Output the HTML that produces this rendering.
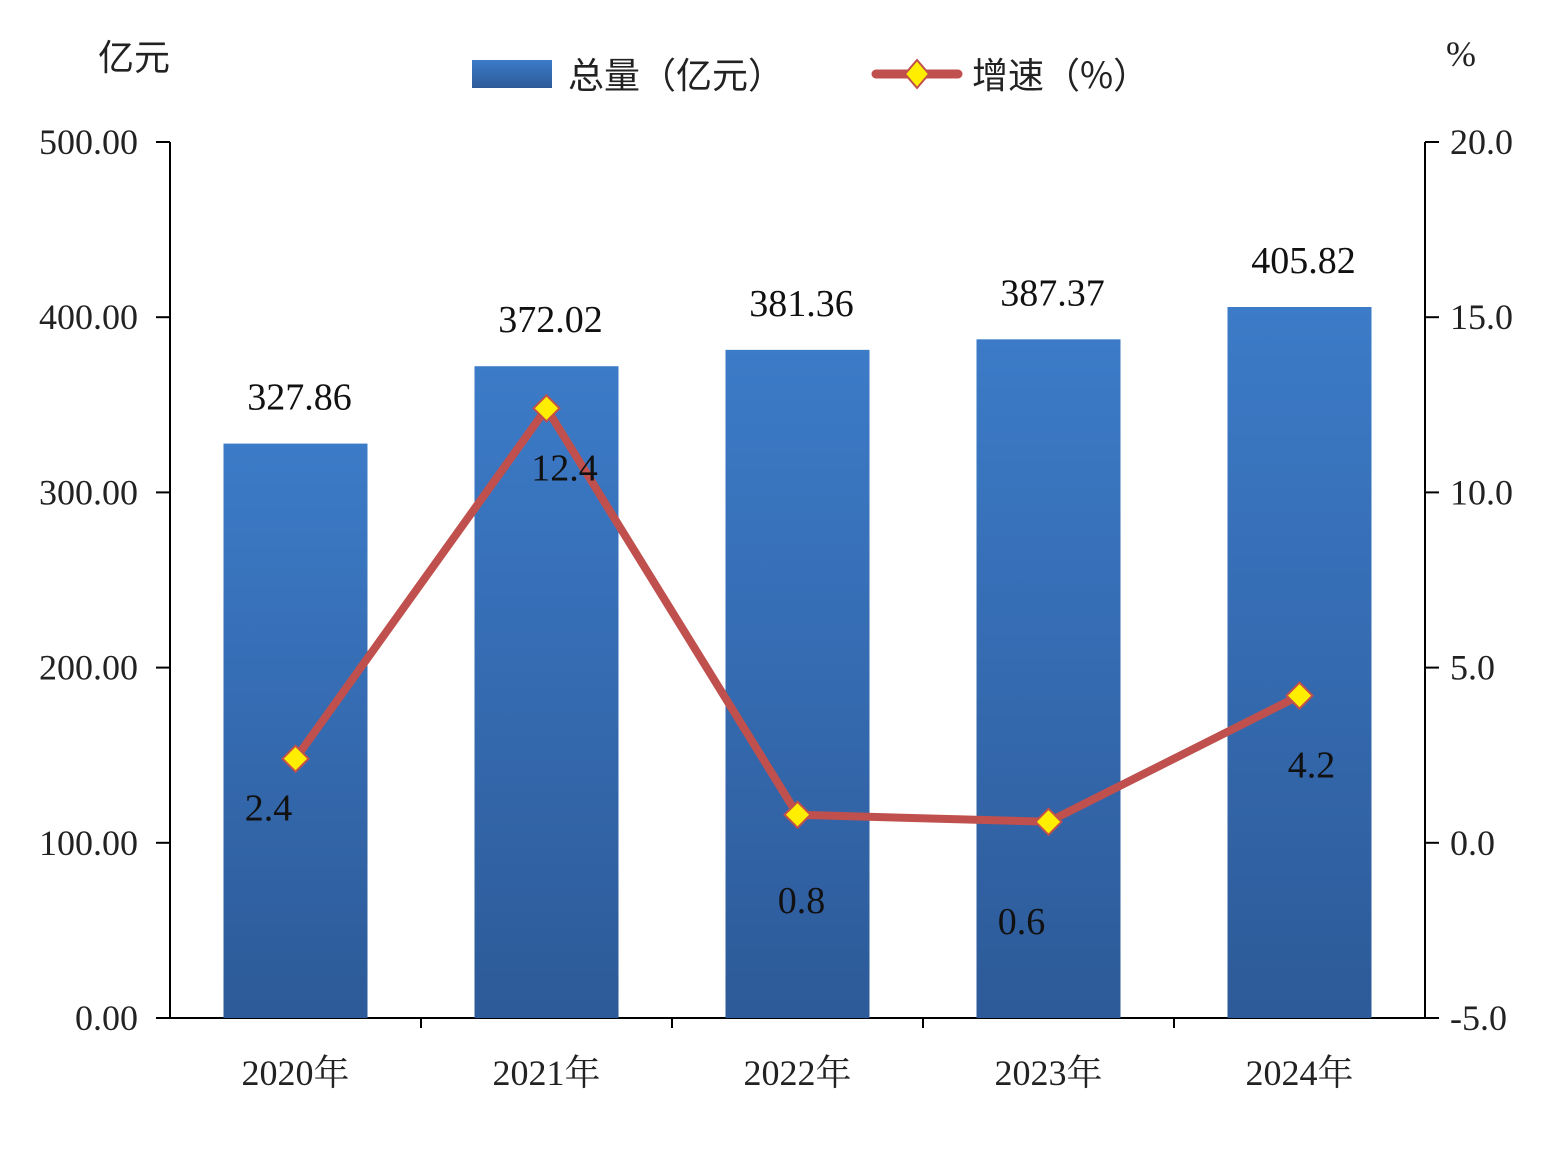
<!DOCTYPE html>
<html><head><meta charset="utf-8">
<style>
html,body{margin:0;padding:0;background:#fff;}
svg text{font-family:"Liberation Serif","Noto Serif CJK SC",serif;}
.cjk{font-family:"Noto Sans CJK SC","WenQuanYi Zen Hei",sans-serif;}
</style></head>
<body>
<svg id="chart" width="1548" height="1152" xmlns="http://www.w3.org/2000/svg">
<defs>
<linearGradient id="barg" x1="0" y1="0" x2="0" y2="1">
<stop offset="0" stop-color="#3c7bc8"/><stop offset="1" stop-color="#2d5a98"/>
</linearGradient>
</defs>
<g id="axes"></g>
<g id="bars"></g>
<g id="line"></g>
<g id="labels"></g>
<g>
<rect x="472" y="60" width="80" height="28" fill="url(#barg)"/>
<text class="cjk" x="568" y="88" font-size="36" fill="#222">总量（亿元）</text>
<line x1="876" y1="74" x2="958" y2="74" stroke="#c0504d" stroke-width="9" stroke-linecap="round"/>
<polygon points="917,60 929,74 917,88 905,74" fill="#ffee00" stroke="#c0504d" stroke-width="2"/>
<text class="cjk" x="972" y="88" font-size="36" fill="#222">增速（%）</text>
</g>
<text class="cjk" x="98" y="70" font-size="36" fill="#222">亿元</text>
<text x="1446" y="66" font-size="36" fill="#222">%</text>
</svg>
<script>
const categories=["2020年","2021年","2022年","2023年","2024年"];
const totals=[327.86,372.02,381.36,387.37,405.82];
const growth=[2.4,12.4,0.8,0.6,4.2];
const leftTicks=[0,100,200,300,400,500];
const rightTicks=[-5,0,5,10,15,20];

const NS="http://www.w3.org/2000/svg";
const X0=170,X1=1425,Y0=1018,Y1=142;
const yL=v=>Y0-(v-0)/(500-0)*(Y0-Y1);
const yR=v=>Y0-(v+5)/(25)*(Y0-Y1);
const band=(X1-X0)/categories.length;
const xC=i=>X0+band*(i+0.5);
function mk(tag,attrs,parent,txt){const e=document.createElementNS(NS,tag);for(const k in attrs)e.setAttribute(k,attrs[k]);if(txt!==undefined)e.textContent=txt;document.getElementById(parent).appendChild(e);return e;}

// axes
let e;
e=mk('line',{x1:X0,y1:Y1,x2:X0,y2:Y0,stroke:'#000','stroke-width':2},'axes');

e=mk('line',{x1:X1,y1:Y1,x2:X1,y2:Y0,stroke:'#000','stroke-width':2},'axes');

e=mk('line',{x1:X0,y1:Y0,x2:X1,y2:Y0,stroke:'#000','stroke-width':2},'axes');

leftTicks.forEach(v=>{
  mk('line',{x1:X0-14,y1:yL(v),x2:X0,y2:yL(v),stroke:'#000','stroke-width':2},'axes');
  e=mk('text',{x:138,y:yL(v)+12,'font-size':36,'text-anchor':'end',fill:'#222'},'axes',v.toFixed(2));
  
});
rightTicks.forEach(v=>{
  mk('line',{x1:X1,y1:yR(v),x2:X1+14,y2:yR(v),stroke:'#000','stroke-width':2},'axes');
  e=mk('text',{x:1450,y:yR(v)+12,'font-size':36,fill:'#222'},'axes',v.toFixed(1));
  
});
for(let i=1;i<categories.length;i++){
  mk('line',{x1:X0+band*i,y1:Y0,x2:X0+band*i,y2:Y0+10,stroke:'#000','stroke-width':2},'axes');
}
categories.forEach((c,i)=>{
  e=mk('text',{x:xC(i),y:1085,'font-size':36,'text-anchor':'middle',fill:'#222'},'axes',c);
  
});
// bars
const bw=144;
totals.forEach((v,i)=>{
  e=mk('rect',{x:xC(i)-bw/2,y:yL(v),width:bw,height:Y0-yL(v),fill:'url(#barg)'},'bars');
  
  e=mk('text',{x:xC(i)+4,y:yL(v)-34,'font-size':38,'text-anchor':'middle',fill:'#111'},'labels',v.toFixed(2));
  
});
// line
const pts=growth.map((v,i)=>xC(i)+','+yR(v)).join(' ');
e=mk('polyline',{points:pts,fill:'none',stroke:'#c0504d','stroke-width':8,'stroke-linejoin':'round'},'line');

const off=[[-27,62],[18,72],[4,98],[-27,112],[12,82]];
growth.forEach((v,i)=>{
  const x=xC(i),y=yR(v);
  e=mk('polygon',{points:`${x},${y-13} ${x+13},${y} ${x},${y+13} ${x-13},${y}`,fill:'#ffee00',stroke:'#c0504d','stroke-width':2},'line');
  
  e=mk('text',{x:x+off[i][0],y:y+off[i][1],'font-size':38,'text-anchor':'middle',fill:'#111'},'labels',v.toFixed(1));
  
});
</script>
</body></html>
